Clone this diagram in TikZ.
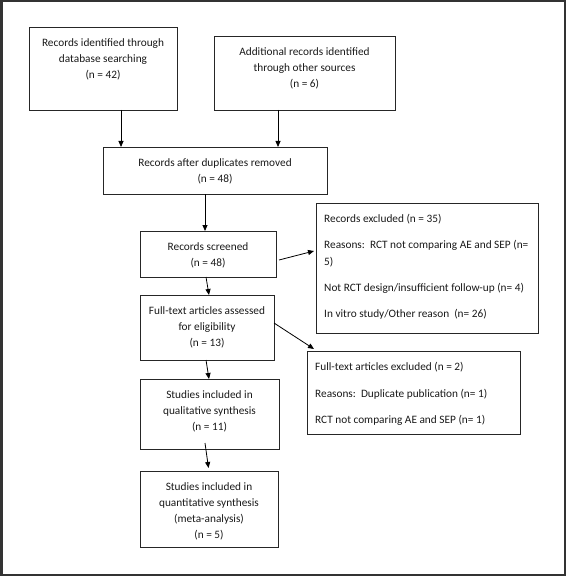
\documentclass[tikz,border=0pt]{standalone}
\usepackage{fontspec}
\setmainfont{Carlito}
\usetikzlibrary{arrows.meta,calc}
\newcommand{\topstrut}{\rule{0pt}{11bp}}
\begin{document}
\begin{tikzpicture}[x=1bp,y=-1bp,
  box/.style={draw=black!85,line width=0.9bp,inner sep=0pt,outer sep=0pt},
  txt/.style={align=center,anchor=north,inner sep=0pt,font=\fontsize{11.3bp}{16bp}\selectfont,text=black!90},
  ltxt/.style={align=left,anchor=north west,inner sep=0pt,font=\fontsize{11.3bp}{17bp}\selectfont,text=black!90},
  arr/.style={draw=black,line width=0.8bp,-{Triangle[length=6bp,width=5bp]}}]
\useasboundingbox (0,0) rectangle (566,576);
\draw[line width=2.5bp,draw=black!80] (1.25,1.25) rectangle (564.75,574.75);
% boxes
\node[box,minimum width=148bp,minimum height=83bp] (b1) at (103,68.5) {};
\node[box,minimum width=181bp,minimum height=74bp] (b2) at (304.5,73) {};
\node[box,minimum width=224bp,minimum height=47bp] (b3) at (215,170.5) {};
\node[box,minimum width=136bp,minimum height=46bp] (b4) at (208,254) {};
\node[box,minimum width=222bp,minimum height=130bp] (e1) at (427,268) {};
\node[box,minimum width=134bp,minimum height=65bp] (b5) at (207,327.5) {};
\node[box,minimum width=213bp,minimum height=83bp] (e2) at (413.5,392.5) {};
\node[box,minimum width=139bp,minimum height=70bp] (b6) at (209.5,414) {};
\node[box,minimum width=138bp,minimum height=76bp] (b7) at (209,509) {};
% texts
\node[txt] (t1) at ($(b1.north)+(0,8.5)$) {\topstrut Records identified through\\database searching\\(n = 42)};
\node[txt] (t2) at ($(b2.north)+(0,8.5)$) {\topstrut Additional records identified\\through other sources\\(n = 6)};
\node[txt] (t3) at ($(b3.north)+(0,8.5)$) {\topstrut Records after duplicates removed\\(n = 48)};
\node[txt] (t4) at ($(b4.north)+(0,8)$) {\topstrut Records screened\\(n = 48)};
\node[txt] (t5) at ($(b5.north)+(0,8.5)$) {\topstrut Full-text articles assessed\\for eligibility\\(n = 13)};
\node[txt] (t6) at ($(b6.north)+(0,8)$) {\topstrut Studies included in\\qualitative synthesis\\(n = 11)};
\node[txt] (t7) at ($(b7.north)+(0,8.5)$) {\topstrut Studies included in\\quantitative synthesis\\(meta-analysis)\\(n = 5)};
\node[ltxt] (te1) at ($(e1.north west)+(8,8)$) {\topstrut Records excluded (n = 35)\\[9bp]
Reasons:\ \ RCT not comparing AE and SEP (n=\\5)\\[9bp]
Not RCT design/insufficient follow-up (n= 4)\\[9bp]
In vitro study/Other reason\ \ (n= 26)};
\node[ltxt] (te2) at ($(e2.north west)+(8,8)$) {\topstrut Full-text articles excluded (n = 2)\\[10bp]
Reasons:\ \ Duplicate publication (n= 1)\\[9bp]
RCT not comparing AE and SEP (n= 1)};
% arrows
\draw[arr] ([xshift=18bp]b1.south) -- ([xshift=18bp]b1.south |- b3.north);
\draw[arr] ([xshift=-26.5bp]b2.south) -- ([xshift=-26.5bp]b2.south |- b3.north);
\draw[arr] ([xshift=-10bp]b3.south) -- ([xshift=-10bp]b3.south |- b4.north);
\draw[arr] ($(b4.east)+(3,6)$) -- ($(e1.west)+(-2,-17)$);
\draw[arr] ($(b4.south)+(-2,0)$) -- ($(b5.north)+(2,0)$);
\draw[arr] ($(b5.east)+(0,-4.5)$) -- ($(e2.north west)+(7,-2)$);
\draw[arr] ($(b5.south)+(-1,0)$) -- ($(b6.north)+(-0.5,0)$);
\draw[arr] ($(b6.south)+(-4.5,-6)$) -- ($(b7.north)+(-0.5,-3)$);
\end{tikzpicture}
\end{document}
